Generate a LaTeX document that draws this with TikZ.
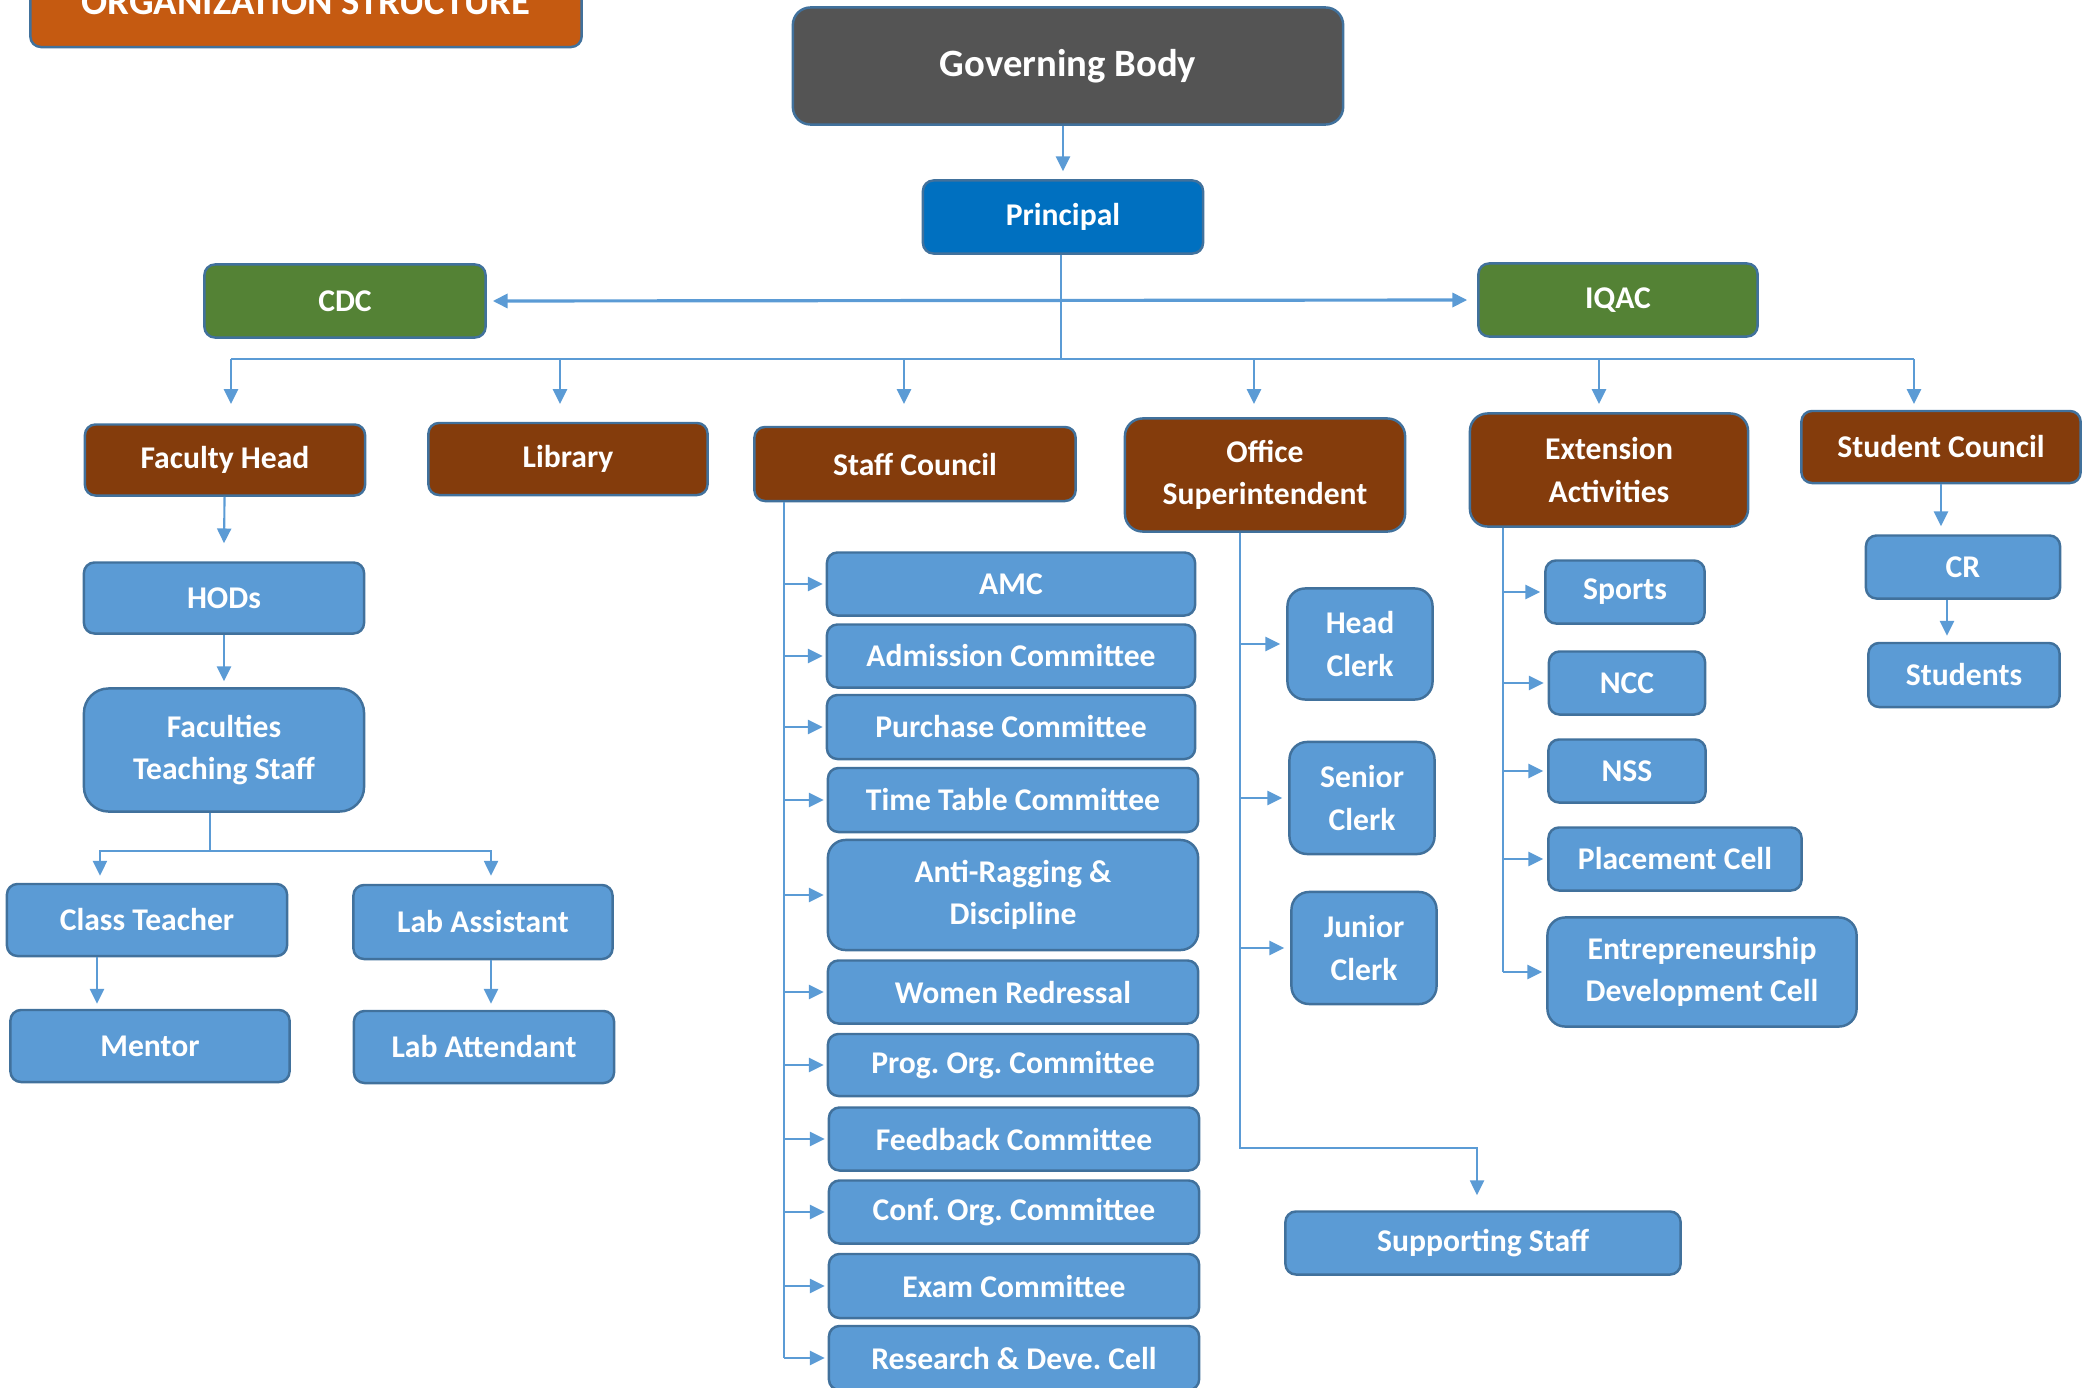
\documentclass[tikz,border=0pt]{standalone}
\usepackage{fontspec}
\setmainfont{Carlito}
\usepackage{xcolor}
\usepackage{tikz}
\usetikzlibrary{arrows.meta,positioning,calc}
\frenchspacing

\definecolor{titleorange}{HTML}{C55A11}
\definecolor{gbgray}{HTML}{545454}
\definecolor{princblue}{HTML}{0070C0}
\definecolor{cellgreen}{HTML}{548235}
\definecolor{headbrown}{HTML}{843C0C}
\definecolor{unitblue}{HTML}{5B9BD5}
\definecolor{edgeblue}{HTML}{41719C}

\begin{document}
\begin{tikzpicture}[
  x=0.01cm, y=-0.01cm,
  >={Triangle[length=4.2pt,width=4pt]},
  box/.style={draw=edgeblue, line width=0.7pt, rounded corners=3pt, align=center, text=white, inner sep=0pt, font=\fontsize{9}{12}\selectfont\bfseries},
  titlebox/.style={box, fill=titleorange, font=\fontsize{11}{13}\selectfont\bfseries},
  gbbox/.style={box, fill=gbgray, rounded corners=5pt, font=\fontsize{11}{13}\selectfont\bfseries},
  princbox/.style={box, fill=princblue},
  cellbox/.style={box, fill=cellgreen},
  headbox/.style={box, fill=headbrown},
  unitbox/.style={box, fill=unitblue},
  link/.style={draw=unitblue, line width=0.6pt},
  bus/.style={draw=unitblue, line width=0.45pt}
]
\useasboundingbox (0,0) rectangle (2091,1388);

% top of the chart
\node[titlebox, minimum width=5.51cm, minimum height=0.9cm] (title) at (306,2) {ORGANIZATION STRUCTURE};
\node[gbbox, minimum width=5.5cm, minimum height=1.17cm] (gb) at (1068,66) {Governing Body};
\node[princbox, minimum width=2.8cm, minimum height=0.73cm] (principal) at (1063,217) {Principal};
\node[cellbox, minimum width=2.81cm, minimum height=0.73cm] (cdc) at (345,301) {CDC};
\node[cellbox, minimum width=2.79cm, minimum height=0.73cm] (iqac) at (1618,300) {IQAC};

% second level
\node[headbox, minimum width=2.8cm, minimum height=0.71cm] (fachead) at (225,460) {Faculty Head};
\node[headbox, minimum width=2.79cm, minimum height=0.72cm] (library) at (568,459) {Library};
\node[headbox, minimum width=3.21cm, minimum height=0.74cm] (staffcouncil) at (915,464) {Staff Council};
\node[headbox, rounded corners=5pt, minimum width=2.8cm, minimum height=1.13cm] (offsup) at (1265,475) {Office\\Superintendent};
\node[headbox, rounded corners=5pt, minimum width=2.78cm, minimum height=1.13cm] (extact) at (1609,470) {Extension\\Activities};
\node[headbox, minimum width=2.79cm, minimum height=0.72cm] (stucouncil) at (1941,447) {Student Council};

% faculty branch
\node[unitbox, minimum width=2.8cm, minimum height=0.71cm] (hods) at (224,598) {HODs};
\node[unitbox, rounded corners=7pt, minimum width=2.8cm, minimum height=1.23cm] (faculties) at (224,750) {Faculties\\Teaching Staff};
\node[unitbox, minimum width=2.8cm, minimum height=0.72cm] (classteacher) at (147,920) {Class Teacher};
\node[unitbox, minimum width=2.59cm, minimum height=0.74cm] (labassistant) at (483,922) {Lab Assistant};
\node[unitbox, minimum width=2.79cm, minimum height=0.72cm] (mentor) at (150,1046) {Mentor};
\node[unitbox, minimum width=2.6cm, minimum height=0.72cm] (labattendant) at (484,1047) {Lab Attendant};

% staff council committees
\node[unitbox, minimum width=3.68cm, minimum height=0.63cm] (amc) at (1011,584) {AMC};
\node[unitbox, minimum width=3.68cm, minimum height=0.63cm] (admission) at (1011,656) {Admission Committee};
\node[unitbox, minimum width=3.68cm, minimum height=0.64cm] (purchase) at (1011,727) {Purchase Committee};
\node[unitbox, minimum width=3.7cm, minimum height=0.64cm] (timetable) at (1013,800) {Time Table Committee};
\node[unitbox, rounded corners=5pt, minimum width=3.7cm, minimum height=1.1cm] (antiragging) at (1013,895) {Anti-Ragging \&\\Discipline};
\node[unitbox, minimum width=3.7cm, minimum height=0.63cm] (women) at (1013,992) {Women Redressal};
\node[unitbox, minimum width=3.7cm, minimum height=0.62cm] (progorg) at (1013,1065) {Prog. Org. Committee};
\node[unitbox, minimum width=3.7cm, minimum height=0.63cm] (feedback) at (1014,1139) {Feedback Committee};
\node[unitbox, minimum width=3.7cm, minimum height=0.63cm] (conforg) at (1014,1212) {Conf. Org. Committee};
\node[unitbox, minimum width=3.7cm, minimum height=0.64cm] (exam) at (1014,1286) {Exam Committee};
\node[unitbox, minimum width=3.7cm, minimum height=0.64cm] (research) at (1014,1358) {Research \& Deve. Cell};

% office branch
\node[unitbox, rounded corners=5pt, minimum width=1.45cm, minimum height=1.11cm] (headclerk) at (1360,644) {Head\\Clerk};
\node[unitbox, rounded corners=5pt, minimum width=1.45cm, minimum height=1.12cm] (seniorclerk) at (1362,798) {Senior\\Clerk};
\node[unitbox, rounded corners=5pt, minimum width=1.45cm, minimum height=1.12cm] (juniorclerk) at (1364,948) {Junior\\Clerk};
\node[unitbox, minimum width=3.95cm, minimum height=0.63cm] (suppstaff) at (1483,1243) {Supporting Staff};

% extension branch
\node[unitbox, minimum width=1.59cm, minimum height=0.63cm] (sports) at (1625,592) {Sports};
\node[unitbox, minimum width=1.56cm, minimum height=0.63cm] (ncc) at (1627,683) {NCC};
\node[unitbox, minimum width=1.57cm, minimum height=0.63cm] (nss) at (1627,771) {NSS};
\node[unitbox, minimum width=2.53cm, minimum height=0.63cm] (placement) at (1675,859) {Placement Cell};
\node[unitbox, rounded corners=5pt, minimum width=3.09cm, minimum height=1.09cm] (edc) at (1702,972) {Entrepreneurship\\Development Cell};

% student branch
\node[unitbox, minimum width=1.94cm, minimum height=0.63cm] (cr) at (1963,567) {CR};
\node[unitbox, minimum width=1.91cm, minimum height=0.64cm] (students) at (1964,675) {Students};

% connectors
\coordinate (bus) at (1061,359);
\coordinate (drop) at (0,404);
\coordinate (scline) at (784,1358);
\coordinate (osturn) at (1240,1148);
\coordinate (ealine) at (1503,979);
\coordinate (facsplit) at (210,851);

\draw[link,->] (gb.south -| principal) -- ([yshift=0.08cm]principal.north);
\draw[link, line width=0.9pt, <->] ([xshift=0.06cm]cdc.east) -- ([xshift=-0.1cm]iqac.west);
\draw[bus] (bus |- principal.south) -- (bus);
\draw[bus] ([xshift=0.06cm]bus -| fachead) -- ([xshift=-0.27cm]bus -| stucouncil);
\foreach \n/\dx in {fachead/0.06,library/-0.08,staffcouncil/-0.11,offsup/-0.11,extact/-0.1,stucouncil/-0.27}
  \draw[link,->] ([xshift=\dx cm]bus -| \n) -- ([xshift=\dx cm]\n.north |- drop);

\draw[link,->] (fachead) -- ([yshift=0.18cm]hods.north);
\draw[link,->] (hods) -- ([yshift=0.06cm]faculties.north);
\draw[bus] (faculties.south -| facsplit) -- (facsplit);
\draw[bus,->] (facsplit) -| ([xshift=-0.47cm,yshift=0.07cm]classteacher.north);
\draw[bus,->] (facsplit) -| ([xshift=0.08cm,yshift=0.08cm]labassistant.north);
\draw[link,->] ([xshift=-0.5cm]classteacher.south) -- ([xshift=-0.5cm,yshift=0.05cm]classteacher.south |- mentor.north);
\draw[link,->] ([xshift=0.08cm]labassistant.south) -- ([xshift=0.08cm,yshift=0.06cm]labassistant.south |- labattendant.north);

\draw[bus] (scline |- staffcouncil.south) -- (scline);
\foreach \n in {amc,admission,purchase,timetable,antiragging,women,progorg,feedback,conforg,exam,research}
  \draw[link,->] (\n.west -| scline) -- ([xshift=-0.03cm]\n.west);

\draw[bus,->] (osturn |- offsup.south) -- (osturn) -| ([xshift=-0.06cm,yshift=0.15cm]suppstaff.north);
\foreach \n in {headclerk,seniorclerk,juniorclerk}
  \draw[link,->] (\n.west -| osturn) -- ([xshift=-0.06cm]\n.west);

\draw[bus] (ealine |- extact.south) -- (ealine |- edc.west);
\foreach \n in {sports,ncc,nss,placement,edc}
  \draw[link,->] (\n.west -| ealine) -- ([xshift=-0.04cm]\n.west);

\draw[link,->] (stucouncil.south) -- ([yshift=0.08cm]stucouncil.south |- cr.north);
\draw[link,->] ([xshift=-0.16cm]cr.south) -- ([xshift=-0.16cm,yshift=0.06cm]cr.south |- students.north);
\end{tikzpicture}
\end{document}
